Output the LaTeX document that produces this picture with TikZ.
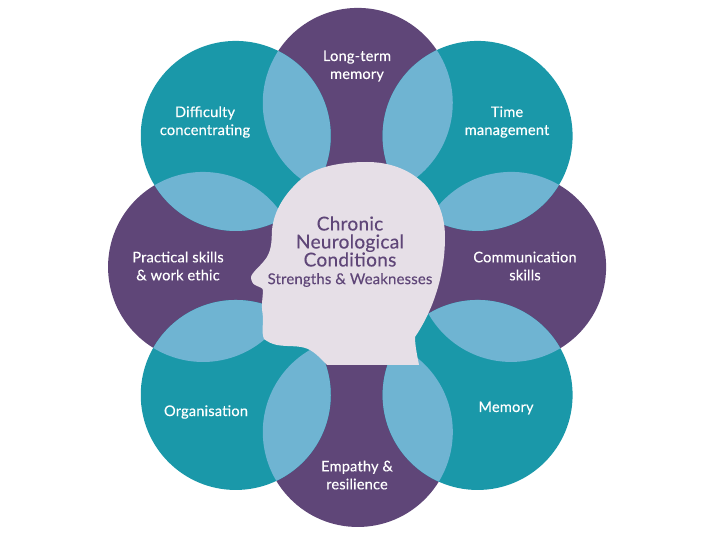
\documentclass[tikz,border=0pt]{standalone}
\usepackage{fontspec}
\setmainfont[FakeBold=0.25,LetterSpace=1.2]{Lato}
\definecolor{plum}{HTML}{5F4678}
\definecolor{teal}{HTML}{1A98A9}
\definecolor{sky}{HTML}{6FB4D2}
\definecolor{skull}{HTML}{E6DFE7}
\tikzset{
  lens/.style={fill=sky},
  lbl/.style={font=\fontsize{10.4}{12.8}\selectfont, text=white, align=center, inner sep=0pt},
  ttl/.style={font=\fontsize{13.6}{12.8}\selectfont, text=plum, align=center, inner sep=0pt},
  sub/.style={font=\fontsize{10.6}{12.8}\selectfont, text=plum, align=center, inner sep=0pt},
}
\begin{document}
\begin{tikzpicture}[scale=2.5]
  \useasboundingbox (0.000,0.000) rectangle (7.200,5.400);
  \coordinate (top) at (3.577,4.370);
  \coordinate (right) at (5.110,2.730);
  \coordinate (bottom) at (3.577,1.080);
  \coordinate (left) at (2.030,2.730);
  \coordinate (topleft) at (2.357,4.040);
  \coordinate (topright) at (4.775,4.040);
  \coordinate (botright) at (4.775,1.450);
  \coordinate (botleft) at (2.357,1.450);
  \fill[plum] (top) circle (0.950);
  \fill[plum] (right) circle (0.950);
  \fill[plum] (bottom) circle (0.950);
  \fill[plum] (left) circle (0.950);
  \fill[teal] (topleft) circle (0.950);
  \fill[teal] (topright) circle (0.950);
  \fill[teal] (botright) circle (0.950);
  \fill[teal] (botleft) circle (0.950);
  \fill[lens] (topleft) ++(-33.16:0.950) arc (-33.16:63.44:0.950) arc (146.84:243.44:0.950) -- cycle;
  \fill[lens] (top) ++(-64.56:0.950) arc (-64.56:33.76:0.950) arc (115.44:213.76:0.950) -- cycle;
  \fill[lens] (topright) ++(-120.29:0.950) arc (-120.29:-31.03:0.950) arc (59.71:148.97:0.950) -- cycle;
  \fill[lens] (right) ++(209.47:0.950) arc (209.47:301.19:0.950) arc (29.47:121.19:0.950) -- cycle;
  \fill[lens] (botright) ++(148.45:0.950) arc (148.45:245.87:0.950) arc (-31.55:65.87:0.950) -- cycle;
  \fill[lens] (bottom) ++(115.28:0.950) arc (115.28:210.98:0.950) arc (-64.72:30.98:0.950) -- cycle;
  \fill[lens] (botleft) ++(58.38:0.950) arc (58.38:150.28:0.950) arc (238.38:330.28:0.950) -- cycle;
  \fill[lens] (left) ++(31.26:0.950) arc (31.26:120.70:0.950) arc (211.26:300.70:0.950) -- cycle;
  \fill[skull] (4.190,1.750)
    .. controls (4.170,1.850) and (4.150,1.950) .. (4.150,2.030)
    .. controls (4.300,2.250) and (4.450,2.600) .. (4.450,3.030)
    .. controls (4.450,3.480) and (4.120,3.780) .. (3.670,3.780)
    .. controls (3.360,3.780) and (3.130,3.720) .. (2.990,3.590)
    .. controls (2.850,3.460) and (2.740,3.300) .. (2.720,3.100)
    .. controls (2.715,3.000) and (2.720,2.920) .. (2.670,2.830)
    .. controls (2.620,2.750) and (2.520,2.680) .. (2.510,2.630)
    .. controls (2.510,2.590) and (2.530,2.560) .. (2.550,2.550)
    .. controls (2.590,2.530) and (2.630,2.520) .. (2.630,2.500)
    .. controls (2.630,2.430) and (2.610,2.350) .. (2.625,2.270)
    .. controls (2.640,2.180) and (2.610,2.080) .. (2.640,2.010)
    .. controls (2.680,1.980) and (2.720,1.960) .. (2.770,1.950)
    .. controls (2.880,1.930) and (2.990,1.950) .. (3.080,1.910)
    .. controls (3.150,1.880) and (3.220,1.800) .. (3.270,1.750)
    -- cycle;
  \node[lbl] (ltm) at (3.570,4.740) {Long-term\\memory};
  \node[lbl] (time) at (5.070,4.180) {Time\\management};
  \node[lbl] (comm) at (5.250,2.740) {Communication\\skills};
  \node[lbl] (memo) at (5.060,1.320) {Memory};
  \node[lbl] (emp) at (3.570,0.650) {Empathy \&\\resilience};
  \node[lbl] (orga) at (2.060,1.280) {Organisation};
  \node[lbl] (prac) at (1.780,2.740) {Practical skills\\\& work ethic};
  \node[lbl] (diff) at (2.050,4.180) {Difficulty\\concentrating};
  \node[ttl] (chro) at (3.500,2.985) {Chronic\\Neurological\\Conditions};
  \node[sub] (stre) at (3.500,2.600) {Strengths \& Weaknesses};
\end{tikzpicture}
\end{document}
